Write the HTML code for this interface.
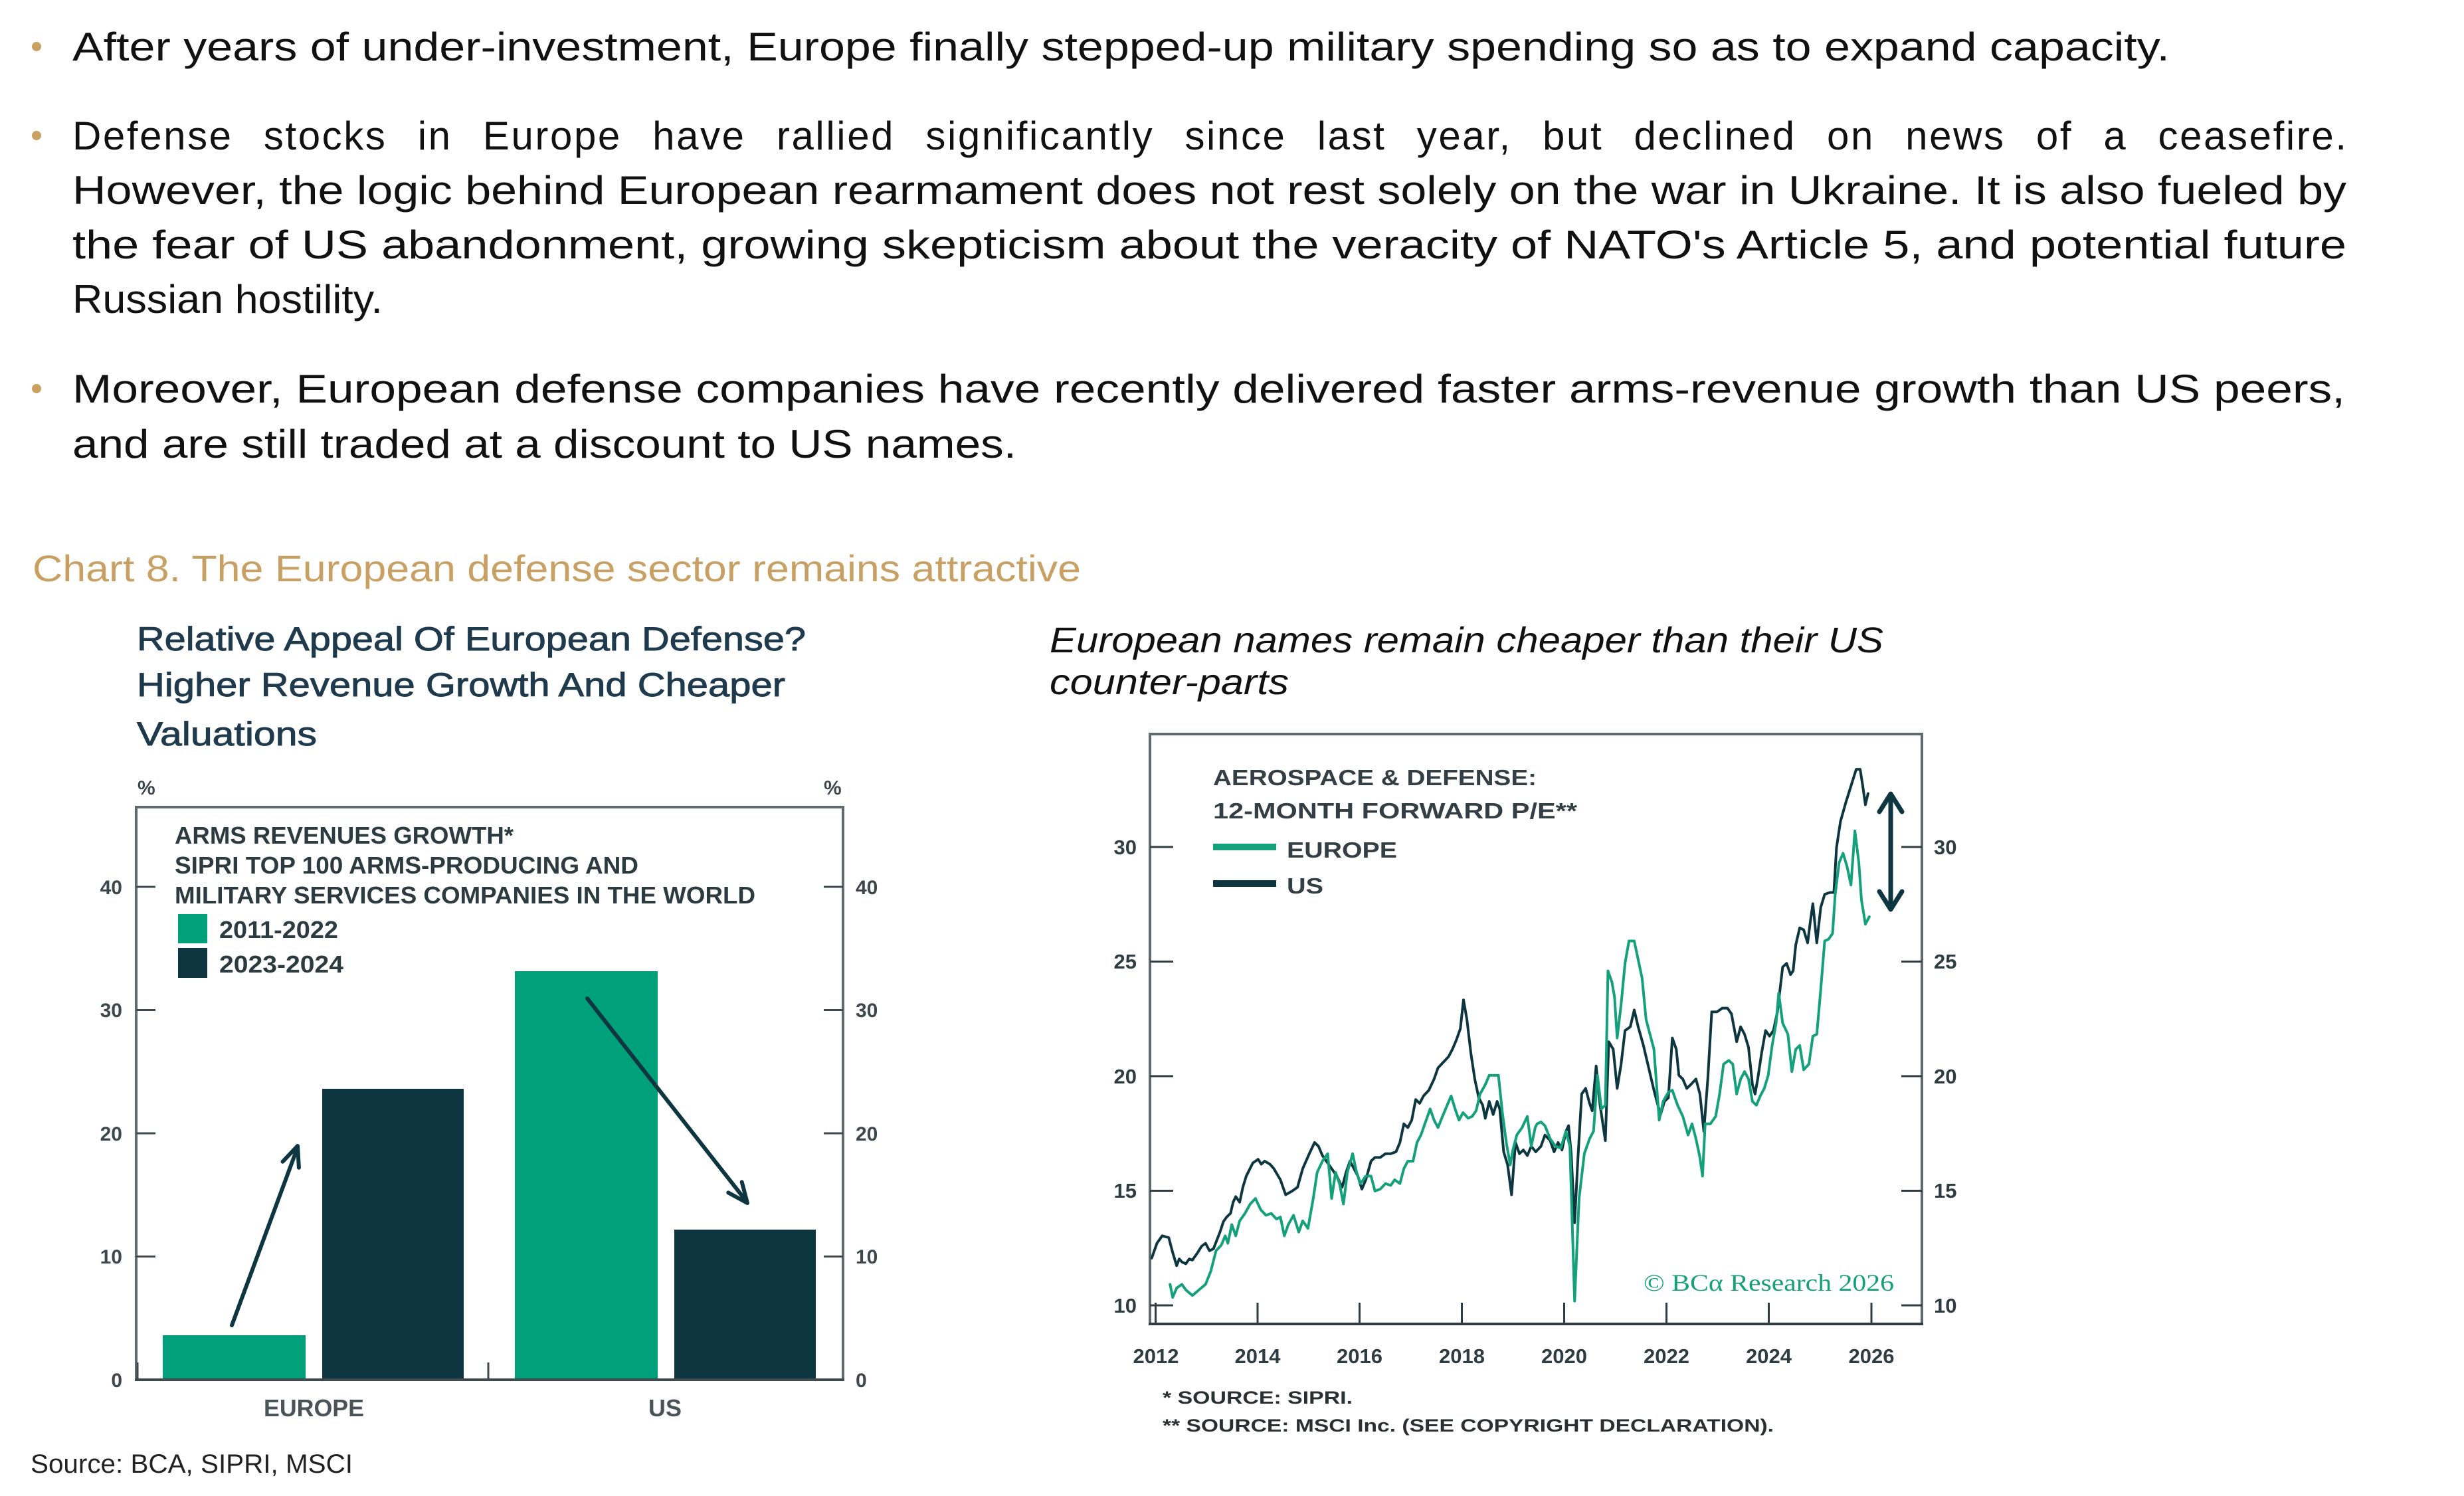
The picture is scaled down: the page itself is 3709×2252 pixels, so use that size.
<!DOCTYPE html>
<html><head><meta charset="utf-8"><style>
html,body{margin:0;padding:0;background:#fff;}
svg{display:block;}
text{font-family:"Liberation Sans",sans-serif;}
</style></head><body>
<svg width="3709" height="2252" viewBox="0 0 3709 2252" xmlns="http://www.w3.org/2000/svg">
<rect width="3709" height="2252" fill="#fff"/>
<defs><clipPath id="lc"><rect x="150" y="1100" width="1200" height="1100"/></clipPath></defs>

<!-- Body bullets -->
<g fill="#c9a262"><circle cx="55" cy="70" r="7"/><circle cx="55" cy="204" r="7"/><circle cx="55" cy="585" r="7"/></g>
<g font-size="60" fill="#111">
<text x="109" y="91" textLength="3157" lengthAdjust="spacingAndGlyphs">After years of under-investment, Europe finally stepped-up military spending so as to expand capacity.</text>
<text x="109" y="225" word-spacing="27" style="word-spacing:27px" textLength="3423" lengthAdjust="spacing">Defense stocks in Europe have rallied significantly since last year, but declined on news of a ceasefire.</text>
<text x="109" y="307" textLength="3423" lengthAdjust="spacingAndGlyphs">However, the logic behind European rearmament does not rest solely on the war in Ukraine. It is also fueled by</text>
<text x="109" y="389" textLength="3423" lengthAdjust="spacingAndGlyphs">the fear of US abandonment, growing skepticism about the veracity of NATO's Article 5, and potential future</text>
<text x="109" y="471" textLength="467" lengthAdjust="spacingAndGlyphs">Russian hostility.</text>
<text x="109" y="606" textLength="3421" lengthAdjust="spacingAndGlyphs">Moreover, European defense companies have recently delivered faster arms-revenue growth than US peers,</text>
<text x="109" y="689" textLength="1421" lengthAdjust="spacingAndGlyphs">and are still traded at a discount to US names.</text>
</g>

<text x="49" y="875" font-size="56" fill="#c9a063" textLength="1578" lengthAdjust="spacingAndGlyphs">Chart 8. The European defense sector remains attractive</text>

<!-- Left chart title -->
<g font-size="50" fill="#1e3a4c" stroke="#1e3a4c" stroke-width="0.9">
<text x="206" y="979" textLength="1007" lengthAdjust="spacingAndGlyphs">Relative Appeal Of European Defense?</text>
<text x="206" y="1048" textLength="976" lengthAdjust="spacingAndGlyphs">Higher Revenue Growth And Cheaper</text>
<text x="206" y="1122" textLength="271" lengthAdjust="spacingAndGlyphs">Valuations</text>
</g>

<!-- Right chart title -->
<g font-size="54" font-style="italic" fill="#111">
<text x="1580" y="982" textLength="1255" lengthAdjust="spacingAndGlyphs">European names remain cheaper than their US</text>
<text x="1580" y="1045" textLength="360" lengthAdjust="spacingAndGlyphs">counter-parts</text>
</g>

<!-- LEFT CHART -->
<g>
<rect x="245" y="2010" width="215" height="67" fill="#00a07a"/>
<rect x="485" y="1639" width="213" height="438" fill="#0e3640"/>
<rect x="775" y="1462" width="215" height="615" fill="#00a07a"/>
<rect x="1015" y="1851" width="213" height="226" fill="#0e3640"/>
<path d="M205,2077 V1215 H1269 V2077" fill="none" stroke="#5f6a6e" stroke-width="4"/>
<line x1="203" y1="2077" x2="1271" y2="2077" stroke="#3f4a4e" stroke-width="4"/>
<g stroke="#3f4a4e" stroke-width="3">
<line x1="205" y1="1335" x2="234" y2="1335"/><line x1="205" y1="1520.5" x2="234" y2="1520.5"/><line x1="205" y1="1706" x2="234" y2="1706"/><line x1="205" y1="1891.5" x2="234" y2="1891.5"/>
<line x1="1240" y1="1335" x2="1269" y2="1335"/><line x1="1240" y1="1520.5" x2="1269" y2="1520.5"/><line x1="1240" y1="1706" x2="1269" y2="1706"/><line x1="1240" y1="1891.5" x2="1269" y2="1891.5"/>
<line x1="207" y1="2051" x2="207" y2="2077"/><line x1="735" y1="2051" x2="735" y2="2077"/>
</g>
<g font-size="30" font-weight="bold" fill="#3d484c" clip-path="url(#lc)" text-anchor="end">
<text x="184" y="1346">40</text><text x="184" y="1531">30</text><text x="184" y="1717">20</text><text x="184" y="1902">10</text><text x="184" y="2088">0</text>
</g>
<g font-size="30" font-weight="bold" fill="#3d484c">
<text x="1288" y="1346">40</text><text x="1288" y="1531">30</text><text x="1288" y="1717">20</text><text x="1288" y="1902">10</text><text x="1288" y="2088">0</text>
<text x="207" y="1196" font-size="30">%</text><text x="1240" y="1196" font-size="30">%</text>
</g>
<g font-size="36" font-weight="bold" fill="#2c3b40">
<text x="263" y="1270" textLength="510" lengthAdjust="spacingAndGlyphs">ARMS REVENUES GROWTH*</text>
<text x="263" y="1315" textLength="698" lengthAdjust="spacingAndGlyphs">SIPRI TOP 100 ARMS-PRODUCING AND</text>
<text x="263" y="1360" textLength="874" lengthAdjust="spacingAndGlyphs">MILITARY SERVICES COMPANIES IN THE WORLD</text>
<text x="330" y="1412" textLength="179" lengthAdjust="spacingAndGlyphs">2011-2022</text>
<text x="330" y="1464" textLength="187" lengthAdjust="spacingAndGlyphs">2023-2024</text>
</g>
<rect x="268" y="1376" width="44" height="44" fill="#00a07a"/>
<rect x="268" y="1427" width="44" height="45" fill="#0e3640"/>
<g stroke="#0e3640" stroke-width="6" fill="none" stroke-linecap="round" stroke-linejoin="round">
<line x1="349" y1="1995" x2="448" y2="1727"/>
<polyline points="449.9,1757.7 448,1725 425.5,1748.7"/>
<line x1="884" y1="1503" x2="1124" y2="1809"/>
<polyline points="1096.3,1795.4 1125,1811 1116.7,1779.4"/>
</g>
<g font-size="36" font-weight="bold" fill="#4a5457">
<text x="397" y="2132" textLength="151" lengthAdjust="spacingAndGlyphs">EUROPE</text>
<text x="976" y="2132" textLength="50" lengthAdjust="spacingAndGlyphs">US</text>
</g>
<text x="46" y="2217" font-size="40" fill="#222" textLength="485" lengthAdjust="spacingAndGlyphs">Source: BCA, SIPRI, MSCI</text>
</g>

<!-- RIGHT CHART -->
<g>
<rect x="1731" y="1105" width="1162" height="888" fill="none" stroke="#5f6a6e" stroke-width="4"/>
<line x1="1729" y1="1993" x2="2895" y2="1993" stroke="#2f3d42" stroke-width="4"/>
<g stroke="#2f3d42" stroke-width="3">
<line x1="1731" y1="1965" x2="1766" y2="1965"/><line x1="1731" y1="1792.5" x2="1766" y2="1792.5"/><line x1="1731" y1="1620" x2="1766" y2="1620"/><line x1="1731" y1="1447.5" x2="1766" y2="1447.5"/><line x1="1731" y1="1275" x2="1766" y2="1275"/>
<line x1="2862" y1="1965" x2="2893" y2="1965"/><line x1="2862" y1="1792.5" x2="2893" y2="1792.5"/><line x1="2862" y1="1620" x2="2893" y2="1620"/><line x1="2862" y1="1447.5" x2="2893" y2="1447.5"/><line x1="2862" y1="1275" x2="2893" y2="1275"/>
<line x1="1739.5" y1="1961" x2="1739.5" y2="1993"/><line x1="1893" y1="1961" x2="1893" y2="1993"/><line x1="2046.5" y1="1961" x2="2046.5" y2="1993"/><line x1="2200.5" y1="1961" x2="2200.5" y2="1993"/><line x1="2354.5" y1="1961" x2="2354.5" y2="1993"/><line x1="2508.5" y1="1961" x2="2508.5" y2="1993"/><line x1="2662.5" y1="1961" x2="2662.5" y2="1993"/><line x1="2817" y1="1961" x2="2817" y2="1993"/>
</g>
<g font-size="31" font-weight="bold" fill="#2e3d42">
<g text-anchor="end"><text x="1711" y="1976">10</text><text x="1711" y="1803">15</text><text x="1711" y="1631">20</text><text x="1711" y="1458">25</text><text x="1711" y="1286">30</text></g>
<text x="2911" y="1976">10</text><text x="2911" y="1803">15</text><text x="2911" y="1631">20</text><text x="2911" y="1458">25</text><text x="2911" y="1286">30</text>
<g text-anchor="middle"><text x="1740" y="2052">2012</text><text x="1893" y="2052">2014</text><text x="2046.5" y="2052">2016</text><text x="2200.5" y="2052">2018</text><text x="2354.5" y="2052">2020</text><text x="2508.5" y="2052">2022</text><text x="2662.5" y="2052">2024</text><text x="2817" y="2052">2026</text></g>
</g>
<g font-size="33" font-weight="bold" fill="#333f44">
<text x="1826" y="1182" textLength="487" lengthAdjust="spacingAndGlyphs">AEROSPACE &amp; DEFENSE:</text>
<text x="1826" y="1232" textLength="548" lengthAdjust="spacingAndGlyphs">12-MONTH FORWARD P/E**</text>
<text x="1937" y="1291" textLength="166" lengthAdjust="spacingAndGlyphs">EUROPE</text>
<text x="1937" y="1345" textLength="55" lengthAdjust="spacingAndGlyphs">US</text>
</g>
<line x1="1826" y1="1275" x2="1921" y2="1275" stroke="#13a07a" stroke-width="10"/>
<line x1="1826" y1="1330" x2="1921" y2="1330" stroke="#0e3640" stroke-width="10"/>

<g transform="translate(1700,1130) scale(0.39541,0.56178)" fill="none" stroke-linejoin="round" stroke-linecap="round">
<polyline vector-effect="non-scaling-stroke" stroke="#0e3640" stroke-width="4" points="85,1360 105,1320 125,1300 150,1305 165,1345 180,1380 190,1362 200,1370 215,1375 228,1362 240,1365 260,1345 275,1328 290,1320 305,1340 320,1335 345,1290 358,1262 370,1250 385,1240 395,1210 405,1195 420,1210 432,1170 445,1140 470,1105 490,1095 502,1108 515,1100 535,1108 550,1120 575,1150 595,1190 620,1180 640,1170 660,1120 685,1080 705,1050 720,1060 735,1085 760,1110 775,1125 790,1140 810,1170 825,1130 840,1100 855,1120 870,1140 885,1175 900,1150 920,1100 935,1090 955,1090 975,1080 995,1080 1015,1075 1030,1050 1045,1000 1060,1010 1075,990 1090,935 1105,945 1120,925 1140,910 1160,880 1175,850 1195,835 1215,820 1230,800 1245,775 1260,745 1272,668 1285,720 1300,810 1315,880 1330,930 1345,950 1355,985 1370,940 1385,975 1400,940 1410,960 1425,1075 1440,1110 1455,1190 1470,1050 1485,1080 1500,1070 1515,1085 1530,1060 1547,1075 1567,1060 1582,1030 1602,1045 1617,1075 1632,1050 1647,1070 1662,1020 1672,1005 1682,1080 1695,1265 1707,1100 1722,920 1737,905 1752,945 1762,965 1777,845 1792,950 1812,1045 1825,780 1842,800 1857,905 1872,840 1887,750 1907,740 1922,695 1937,740 1957,790 1977,850 1997,910 2012,950 2022,975 2037,940 2052,930 2067,770 2082,800 2092,870 2107,880 2122,905 2137,895 2157,880 2172,920 2187,1020 2202,880 2217,700 2237,700 2257,690 2277,690 2292,705 2312,780 2327,740 2342,760 2357,795 2372,895 2382,920 2392,880 2407,810 2422,750 2437,765 2452,750 2467,700 2477,640 2487,580 2502,570 2517,600 2527,590 2537,520 2552,475 2567,480 2582,515 2592,460 2602,410 2617,515 2632,420 2647,385 2667,380 2682,380 2692,260 2707,190 2727,140 2747,95 2767,50 2782,50 2792,95 2802,145 2812,115"/>
<polyline vector-effect="non-scaling-stroke" stroke="#13a07a" stroke-width="4" points="155,1430 165,1465 180,1440 200,1430 215,1445 240,1460 265,1445 290,1430 310,1395 330,1340 350,1325 365,1300 375,1320 390,1270 405,1300 420,1260 440,1240 460,1215 480,1200 500,1230 520,1245 540,1240 560,1255 575,1250 590,1300 605,1270 625,1245 645,1290 660,1260 680,1280 700,1200 715,1130 735,1100 755,1080 770,1200 785,1130 800,1160 815,1215 830,1130 850,1080 865,1130 880,1160 900,1140 920,1140 935,1180 955,1175 975,1160 995,1165 1010,1150 1030,1160 1045,1120 1060,1100 1080,1100 1095,1050 1110,1030 1130,990 1145,960 1160,990 1175,1010 1195,975 1210,950 1225,925 1240,960 1255,990 1270,970 1290,985 1305,980 1320,965 1335,920 1355,895 1370,870 1385,870 1405,870 1420,970 1435,1050 1450,1110 1460,1070 1475,1030 1495,1010 1515,980 1530,1060 1545,1010 1552,1000 1567,995 1582,1005 1602,1040 1622,1060 1642,1065 1662,1020 1677,1060 1695,1475 1712,1200 1732,1080 1752,1040 1767,1020 1782,870 1797,960 1812,950 1822,590 1837,620 1847,660 1857,770 1872,680 1887,570 1902,510 1922,510 1937,560 1952,610 1967,720 1982,760 1997,800 2017,990 2032,940 2052,915 2067,910 2087,950 2107,980 2127,1030 2142,1000 2157,1040 2172,1090 2182,1140 2192,1000 2212,1000 2232,980 2247,920 2262,840 2282,830 2297,840 2312,920 2327,880 2342,860 2357,880 2372,940 2387,950 2402,925 2417,905 2432,870 2447,790 2462,730 2472,650 2487,730 2507,760 2522,860 2537,800 2552,790 2567,855 2587,840 2602,765 2617,760 2632,640 2647,510 2662,505 2677,490 2687,385 2702,300 2717,275 2732,310 2747,360 2762,215 2777,300 2787,400 2802,465 2817,445"/>
</g>

<g stroke="#0e3640" stroke-width="7" fill="none" stroke-linecap="round" stroke-linejoin="round">
<line x1="2846" y1="1196" x2="2846" y2="1368"/>
<polyline points="2829,1222 2846,1195 2863,1222"/>
<polyline points="2829,1342 2846,1369 2863,1342"/>
</g>
<text x="2474" y="1943" font-size="36" fill="#16a07a" textLength="377" lengthAdjust="spacingAndGlyphs" style="font-family:'Liberation Serif',serif">© BCα Research 2026</text>

<g font-size="27" font-weight="bold" fill="#2a2f31">
<text x="1750" y="2113" textLength="286" lengthAdjust="spacingAndGlyphs">*  SOURCE: SIPRI.</text>
<text x="1750" y="2155" textLength="920" lengthAdjust="spacingAndGlyphs">** SOURCE: MSCI Inc. (SEE COPYRIGHT DECLARATION).</text>
</g>
</g>
</svg>
</body></html>
